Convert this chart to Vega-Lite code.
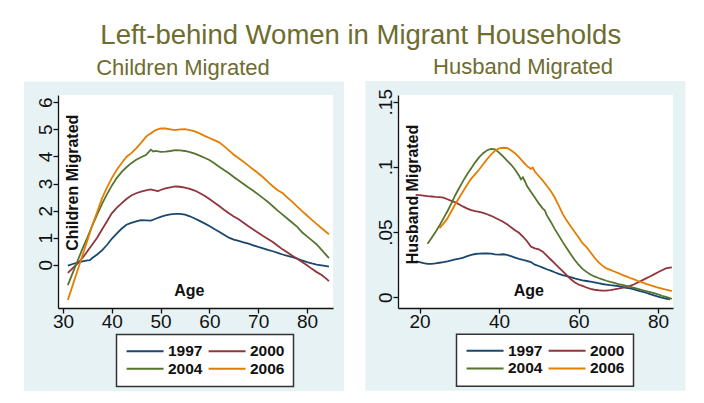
{
  "$schema": "https://vega.github.io/schema/vega-lite/v6.json",
  "background": "white",
  "autosize": {"type": "pad"},
  "padding": {"left": 23, "top": 22, "right": 0, "bottom": 0},
  "title": {"text": "Left-behind Women in Migrant Households", "font": "Liberation Sans", "fontSize": 27.5, "fontWeight": "normal", "color": "#6e6c2f", "anchor": "middle", "dx": 6, "offset": 6},
  "datasets": {
    "children": [
      {"age":31,"year":"1997","value":-0.03},{"age":32,"year":"1997","value":0.03},{"age":33,"year":"1997","value":0.08},{"age":34,"year":"1997","value":0.13},{"age":35,"year":"1997","value":0.16},{"age":35.5,"year":"1997","value":0.17},{"age":36,"year":"1997","value":0.25},{"age":37,"year":"1997","value":0.38},{"age":38,"year":"1997","value":0.53},{"age":39,"year":"1997","value":0.73},{"age":40,"year":"1997","value":0.96},{"age":41,"year":"1997","value":1.15},{"age":42,"year":"1997","value":1.33},{"age":43,"year":"1997","value":1.48},{"age":44,"year":"1997","value":1.55},{"age":45,"year":"1997","value":1.6},{"age":46,"year":"1997","value":1.65},{"age":47,"year":"1997","value":1.64},{"age":48,"year":"1997","value":1.63},{"age":49,"year":"1997","value":1.7},{"age":50,"year":"1997","value":1.77},{"age":51,"year":"1997","value":1.82},{"age":52,"year":"1997","value":1.86},{"age":53,"year":"1997","value":1.88},{"age":54,"year":"1997","value":1.88},{"age":55,"year":"1997","value":1.85},{"age":56,"year":"1997","value":1.79},{"age":57,"year":"1997","value":1.71},{"age":58,"year":"1997","value":1.62},{"age":59,"year":"1997","value":1.53},{"age":60,"year":"1997","value":1.43},{"age":61,"year":"1997","value":1.32},{"age":62,"year":"1997","value":1.22},{"age":63,"year":"1997","value":1.11},{"age":64,"year":"1997","value":1.0},{"age":65,"year":"1997","value":0.93},{"age":66,"year":"1997","value":0.88},{"age":67,"year":"1997","value":0.83},{"age":68,"year":"1997","value":0.78},{"age":69,"year":"1997","value":0.72},{"age":70,"year":"1997","value":0.66},{"age":71,"year":"1997","value":0.61},{"age":72,"year":"1997","value":0.55},{"age":73,"year":"1997","value":0.5},{"age":74,"year":"1997","value":0.44},{"age":75,"year":"1997","value":0.38},{"age":76,"year":"1997","value":0.33},{"age":77,"year":"1997","value":0.28},{"age":78,"year":"1997","value":0.23},{"age":79,"year":"1997","value":0.16},{"age":80,"year":"1997","value":0.1},{"age":81,"year":"1997","value":0.05},{"age":82,"year":"1997","value":0.01},{"age":83,"year":"1997","value":-0.02},{"age":84,"year":"1997","value":-0.05},{"age":84.5,"year":"1997","value":-0.07},
      {"age":31,"year":"2000","value":-0.3},{"age":32,"year":"2000","value":-0.12},{"age":33,"year":"2000","value":0.05},{"age":34,"year":"2000","value":0.25},{"age":35,"year":"2000","value":0.5},{"age":36,"year":"2000","value":0.75},{"age":37,"year":"2000","value":1.0},{"age":38,"year":"2000","value":1.3},{"age":39,"year":"2000","value":1.6},{"age":40,"year":"2000","value":1.9},{"age":41,"year":"2000","value":2.1},{"age":42,"year":"2000","value":2.27},{"age":43,"year":"2000","value":2.43},{"age":44,"year":"2000","value":2.56},{"age":45,"year":"2000","value":2.64},{"age":46,"year":"2000","value":2.7},{"age":47,"year":"2000","value":2.75},{"age":48,"year":"2000","value":2.78},{"age":49,"year":"2000","value":2.74},{"age":49.5,"year":"2000","value":2.72},{"age":50,"year":"2000","value":2.76},{"age":51,"year":"2000","value":2.82},{"age":52,"year":"2000","value":2.86},{"age":53,"year":"2000","value":2.89},{"age":54,"year":"2000","value":2.88},{"age":55,"year":"2000","value":2.85},{"age":56,"year":"2000","value":2.8},{"age":57,"year":"2000","value":2.74},{"age":58,"year":"2000","value":2.65},{"age":59,"year":"2000","value":2.55},{"age":60,"year":"2000","value":2.43},{"age":61,"year":"2000","value":2.3},{"age":62,"year":"2000","value":2.17},{"age":63,"year":"2000","value":2.03},{"age":64,"year":"2000","value":1.9},{"age":65,"year":"2000","value":1.78},{"age":66,"year":"2000","value":1.68},{"age":67,"year":"2000","value":1.55},{"age":68,"year":"2000","value":1.42},{"age":69,"year":"2000","value":1.3},{"age":70,"year":"2000","value":1.18},{"age":71,"year":"2000","value":1.06},{"age":72,"year":"2000","value":0.95},{"age":73,"year":"2000","value":0.84},{"age":74,"year":"2000","value":0.7},{"age":75,"year":"2000","value":0.57},{"age":76,"year":"2000","value":0.45},{"age":77,"year":"2000","value":0.33},{"age":78,"year":"2000","value":0.22},{"age":79,"year":"2000","value":0.1},{"age":80,"year":"2000","value":-0.02},{"age":81,"year":"2000","value":-0.15},{"age":82,"year":"2000","value":-0.27},{"age":83,"year":"2000","value":-0.38},{"age":84,"year":"2000","value":-0.52},{"age":84.5,"year":"2000","value":-0.6},
      {"age":31,"year":"2004","value":-0.75},{"age":32,"year":"2004","value":-0.3},{"age":33,"year":"2004","value":0.15},{"age":34,"year":"2004","value":0.6},{"age":35,"year":"2004","value":1.0},{"age":36,"year":"2004","value":1.45},{"age":37,"year":"2004","value":1.85},{"age":38,"year":"2004","value":2.25},{"age":39,"year":"2004","value":2.6},{"age":40,"year":"2004","value":2.92},{"age":41,"year":"2004","value":3.2},{"age":42,"year":"2004","value":3.42},{"age":43,"year":"2004","value":3.6},{"age":44,"year":"2004","value":3.75},{"age":45,"year":"2004","value":3.88},{"age":46,"year":"2004","value":3.97},{"age":47,"year":"2004","value":4.05},{"age":47.5,"year":"2004","value":4.15},{"age":48,"year":"2004","value":4.25},{"age":48.5,"year":"2004","value":4.18},{"age":49,"year":"2004","value":4.2},{"age":50,"year":"2004","value":4.17},{"age":51,"year":"2004","value":4.18},{"age":52,"year":"2004","value":4.2},{"age":53,"year":"2004","value":4.23},{"age":54,"year":"2004","value":4.22},{"age":55,"year":"2004","value":4.2},{"age":56,"year":"2004","value":4.16},{"age":57,"year":"2004","value":4.1},{"age":58,"year":"2004","value":4.03},{"age":59,"year":"2004","value":3.95},{"age":60,"year":"2004","value":3.87},{"age":61,"year":"2004","value":3.75},{"age":62,"year":"2004","value":3.62},{"age":63,"year":"2004","value":3.5},{"age":64,"year":"2004","value":3.38},{"age":65,"year":"2004","value":3.24},{"age":66,"year":"2004","value":3.11},{"age":67,"year":"2004","value":2.98},{"age":68,"year":"2004","value":2.85},{"age":69,"year":"2004","value":2.73},{"age":70,"year":"2004","value":2.6},{"age":71,"year":"2004","value":2.46},{"age":72,"year":"2004","value":2.32},{"age":73,"year":"2004","value":2.16},{"age":74,"year":"2004","value":2.0},{"age":75,"year":"2004","value":1.85},{"age":76,"year":"2004","value":1.7},{"age":77,"year":"2004","value":1.55},{"age":78,"year":"2004","value":1.4},{"age":79,"year":"2004","value":1.2},{"age":80,"year":"2004","value":1.05},{"age":81,"year":"2004","value":0.9},{"age":82,"year":"2004","value":0.75},{"age":83,"year":"2004","value":0.55},{"age":84,"year":"2004","value":0.35},{"age":84.5,"year":"2004","value":0.25},
      {"age":31,"year":"2006","value":-1.3},{"age":32,"year":"2006","value":-0.75},{"age":33,"year":"2006","value":-0.2},{"age":34,"year":"2006","value":0.35},{"age":35,"year":"2006","value":0.9},{"age":36,"year":"2006","value":1.45},{"age":37,"year":"2006","value":1.95},{"age":38,"year":"2006","value":2.45},{"age":39,"year":"2006","value":2.85},{"age":40,"year":"2006","value":3.2},{"age":41,"year":"2006","value":3.5},{"age":42,"year":"2006","value":3.75},{"age":43,"year":"2006","value":3.98},{"age":44,"year":"2006","value":4.12},{"age":45,"year":"2006","value":4.3},{"age":46,"year":"2006","value":4.5},{"age":47,"year":"2006","value":4.72},{"age":47.5,"year":"2006","value":4.8},{"age":48,"year":"2006","value":4.85},{"age":49,"year":"2006","value":4.97},{"age":50,"year":"2006","value":5.03},{"age":51,"year":"2006","value":5.03},{"age":52,"year":"2006","value":5.0},{"age":53,"year":"2006","value":4.97},{"age":54,"year":"2006","value":5.0},{"age":55,"year":"2006","value":5.01},{"age":56,"year":"2006","value":4.97},{"age":57,"year":"2006","value":4.92},{"age":58,"year":"2006","value":4.85},{"age":59,"year":"2006","value":4.76},{"age":60,"year":"2006","value":4.68},{"age":61,"year":"2006","value":4.6},{"age":62,"year":"2006","value":4.52},{"age":63,"year":"2006","value":4.38},{"age":64,"year":"2006","value":4.22},{"age":65,"year":"2006","value":4.06},{"age":66,"year":"2006","value":3.93},{"age":67,"year":"2006","value":3.8},{"age":68,"year":"2006","value":3.66},{"age":69,"year":"2006","value":3.52},{"age":70,"year":"2006","value":3.38},{"age":71,"year":"2006","value":3.23},{"age":72,"year":"2006","value":3.06},{"age":73,"year":"2006","value":2.9},{"age":74,"year":"2006","value":2.75},{"age":75,"year":"2006","value":2.65},{"age":76,"year":"2006","value":2.48},{"age":77,"year":"2006","value":2.32},{"age":78,"year":"2006","value":2.15},{"age":79,"year":"2006","value":1.98},{"age":80,"year":"2006","value":1.82},{"age":81,"year":"2006","value":1.66},{"age":82,"year":"2006","value":1.5},{"age":83,"year":"2006","value":1.35},{"age":84,"year":"2006","value":1.2},{"age":84.5,"year":"2006","value":1.13}
    ],
    "husband": [
      {"age":19,"year":"1997","value":0.0275},{"age":20,"year":"1997","value":0.027},{"age":21,"year":"1997","value":0.0262},{"age":22,"year":"1997","value":0.0257},{"age":23,"year":"1997","value":0.0256},{"age":24,"year":"1997","value":0.026},{"age":25,"year":"1997","value":0.0265},{"age":26,"year":"1997","value":0.027},{"age":27,"year":"1997","value":0.0276},{"age":28,"year":"1997","value":0.0283},{"age":29,"year":"1997","value":0.029},{"age":30,"year":"1997","value":0.0297},{"age":31,"year":"1997","value":0.0305},{"age":32,"year":"1997","value":0.0315},{"age":33,"year":"1997","value":0.0325},{"age":34,"year":"1997","value":0.0332},{"age":35,"year":"1997","value":0.0335},{"age":36,"year":"1997","value":0.0336},{"age":37,"year":"1997","value":0.0337},{"age":38,"year":"1997","value":0.0335},{"age":39,"year":"1997","value":0.033},{"age":40,"year":"1997","value":0.0328},{"age":41,"year":"1997","value":0.033},{"age":42,"year":"1997","value":0.0325},{"age":43,"year":"1997","value":0.0315},{"age":44,"year":"1997","value":0.0305},{"age":45,"year":"1997","value":0.0295},{"age":46,"year":"1997","value":0.0287},{"age":47,"year":"1997","value":0.028},{"age":48,"year":"1997","value":0.027},{"age":49,"year":"1997","value":0.025},{"age":50,"year":"1997","value":0.024},{"age":51,"year":"1997","value":0.0228},{"age":52,"year":"1997","value":0.0215},{"age":53,"year":"1997","value":0.0205},{"age":54,"year":"1997","value":0.0192},{"age":55,"year":"1997","value":0.018},{"age":56,"year":"1997","value":0.0171},{"age":57,"year":"1997","value":0.0163},{"age":58,"year":"1997","value":0.0155},{"age":59,"year":"1997","value":0.0145},{"age":60,"year":"1997","value":0.0137},{"age":61,"year":"1997","value":0.013},{"age":62,"year":"1997","value":0.0125},{"age":63,"year":"1997","value":0.012},{"age":64,"year":"1997","value":0.0115},{"age":65,"year":"1997","value":0.0108},{"age":66,"year":"1997","value":0.0102},{"age":67,"year":"1997","value":0.0098},{"age":68,"year":"1997","value":0.0093},{"age":69,"year":"1997","value":0.0089},{"age":70,"year":"1997","value":0.0085},{"age":71,"year":"1997","value":0.008},{"age":72,"year":"1997","value":0.0073},{"age":73,"year":"1997","value":0.0068},{"age":74,"year":"1997","value":0.006},{"age":75,"year":"1997","value":0.0052},{"age":76,"year":"1997","value":0.0044},{"age":77,"year":"1997","value":0.0035},{"age":78,"year":"1997","value":0.0025},{"age":79,"year":"1997","value":0.0015},{"age":80,"year":"1997","value":0.0005},{"age":81,"year":"1997","value":-0.0002},{"age":82,"year":"1997","value":-0.001},{"age":83,"year":"1997","value":-0.0016},
      {"age":19,"year":"2000","value":0.0785},{"age":20,"year":"2000","value":0.0783},{"age":21,"year":"2000","value":0.078},{"age":22,"year":"2000","value":0.0776},{"age":23,"year":"2000","value":0.0773},{"age":24,"year":"2000","value":0.077},{"age":25,"year":"2000","value":0.0768},{"age":26,"year":"2000","value":0.0765},{"age":27,"year":"2000","value":0.0752},{"age":28,"year":"2000","value":0.074},{"age":29,"year":"2000","value":0.0728},{"age":30,"year":"2000","value":0.0712},{"age":31,"year":"2000","value":0.0695},{"age":32,"year":"2000","value":0.068},{"age":33,"year":"2000","value":0.0668},{"age":34,"year":"2000","value":0.066},{"age":35,"year":"2000","value":0.0655},{"age":36,"year":"2000","value":0.0648},{"age":37,"year":"2000","value":0.0637},{"age":38,"year":"2000","value":0.0625},{"age":39,"year":"2000","value":0.061},{"age":40,"year":"2000","value":0.0595},{"age":41,"year":"2000","value":0.058},{"age":42,"year":"2000","value":0.056},{"age":43,"year":"2000","value":0.0538},{"age":44,"year":"2000","value":0.0515},{"age":45,"year":"2000","value":0.0495},{"age":46,"year":"2000","value":0.0465},{"age":47,"year":"2000","value":0.0432},{"age":48,"year":"2000","value":0.039},{"age":49,"year":"2000","value":0.0375},{"age":50,"year":"2000","value":0.0368},{"age":51,"year":"2000","value":0.035},{"age":52,"year":"2000","value":0.032},{"age":53,"year":"2000","value":0.029},{"age":54,"year":"2000","value":0.026},{"age":55,"year":"2000","value":0.023},{"age":56,"year":"2000","value":0.02},{"age":57,"year":"2000","value":0.017},{"age":58,"year":"2000","value":0.014},{"age":59,"year":"2000","value":0.0115},{"age":60,"year":"2000","value":0.0098},{"age":61,"year":"2000","value":0.0087},{"age":62,"year":"2000","value":0.0075},{"age":63,"year":"2000","value":0.0064},{"age":64,"year":"2000","value":0.0058},{"age":65,"year":"2000","value":0.0054},{"age":66,"year":"2000","value":0.0052},{"age":67,"year":"2000","value":0.0052},{"age":68,"year":"2000","value":0.0055},{"age":69,"year":"2000","value":0.006},{"age":70,"year":"2000","value":0.0066},{"age":71,"year":"2000","value":0.0073},{"age":72,"year":"2000","value":0.008},{"age":73,"year":"2000","value":0.0088},{"age":74,"year":"2000","value":0.01},{"age":75,"year":"2000","value":0.0115},{"age":76,"year":"2000","value":0.013},{"age":77,"year":"2000","value":0.0145},{"age":78,"year":"2000","value":0.016},{"age":79,"year":"2000","value":0.0176},{"age":80,"year":"2000","value":0.0192},{"age":81,"year":"2000","value":0.0207},{"age":82,"year":"2000","value":0.0222},{"age":83,"year":"2000","value":0.0228},{"age":83.5,"year":"2000","value":0.023},
      {"age":22,"year":"2004","value":0.041},{"age":23,"year":"2004","value":0.0455},{"age":24,"year":"2004","value":0.05},{"age":25,"year":"2004","value":0.055},{"age":26,"year":"2004","value":0.0605},{"age":27,"year":"2004","value":0.066},{"age":28,"year":"2004","value":0.072},{"age":29,"year":"2004","value":0.0785},{"age":30,"year":"2004","value":0.084},{"age":31,"year":"2004","value":0.0895},{"age":32,"year":"2004","value":0.0945},{"age":33,"year":"2004","value":0.099},{"age":34,"year":"2004","value":0.1035},{"age":35,"year":"2004","value":0.1075},{"age":36,"year":"2004","value":0.1105},{"age":37,"year":"2004","value":0.1128},{"age":38,"year":"2004","value":0.1138},{"age":39,"year":"2004","value":0.1135},{"age":40,"year":"2004","value":0.111},{"age":41,"year":"2004","value":0.108},{"age":42,"year":"2004","value":0.1048},{"age":43,"year":"2004","value":0.1018},{"age":44,"year":"2004","value":0.098},{"age":45,"year":"2004","value":0.0935},{"age":45.5,"year":"2004","value":0.0905},{"age":46,"year":"2004","value":0.092},{"age":46.5,"year":"2004","value":0.089},{"age":47,"year":"2004","value":0.0855},{"age":48,"year":"2004","value":0.081},{"age":49,"year":"2004","value":0.0765},{"age":50,"year":"2004","value":0.072},{"age":51,"year":"2004","value":0.068},{"age":51.5,"year":"2004","value":0.0668},{"age":52,"year":"2004","value":0.063},{"age":53,"year":"2004","value":0.058},{"age":54,"year":"2004","value":0.0525},{"age":55,"year":"2004","value":0.0475},{"age":56,"year":"2004","value":0.0425},{"age":57,"year":"2004","value":0.0378},{"age":58,"year":"2004","value":0.0332},{"age":59,"year":"2004","value":0.0288},{"age":60,"year":"2004","value":0.025},{"age":61,"year":"2004","value":0.0218},{"age":62,"year":"2004","value":0.0195},{"age":63,"year":"2004","value":0.0175},{"age":64,"year":"2004","value":0.016},{"age":65,"year":"2004","value":0.0148},{"age":66,"year":"2004","value":0.0137},{"age":67,"year":"2004","value":0.0127},{"age":68,"year":"2004","value":0.0118},{"age":69,"year":"2004","value":0.011},{"age":70,"year":"2004","value":0.0102},{"age":71,"year":"2004","value":0.0095},{"age":72,"year":"2004","value":0.0087},{"age":73,"year":"2004","value":0.008},{"age":74,"year":"2004","value":0.0072},{"age":75,"year":"2004","value":0.0064},{"age":76,"year":"2004","value":0.0056},{"age":77,"year":"2004","value":0.0048},{"age":78,"year":"2004","value":0.004},{"age":79,"year":"2004","value":0.0032},{"age":80,"year":"2004","value":0.0022},{"age":81,"year":"2004","value":0.0012},{"age":82,"year":"2004","value":0.0003},{"age":83,"year":"2004","value":-0.0007},{"age":83.5,"year":"2004","value":-0.0013},
      {"age":25,"year":"2006","value":0.053},{"age":26,"year":"2006","value":0.0565},{"age":27,"year":"2006","value":0.0605},{"age":28,"year":"2006","value":0.066},{"age":29,"year":"2006","value":0.0715},{"age":30,"year":"2006","value":0.0765},{"age":31,"year":"2006","value":0.0815},{"age":32,"year":"2006","value":0.0865},{"age":33,"year":"2006","value":0.091},{"age":34,"year":"2006","value":0.0945},{"age":35,"year":"2006","value":0.098},{"age":36,"year":"2006","value":0.102},{"age":37,"year":"2006","value":0.106},{"age":38,"year":"2006","value":0.1095},{"age":39,"year":"2006","value":0.1125},{"age":40,"year":"2006","value":0.1143},{"age":41,"year":"2006","value":0.1147},{"age":42,"year":"2006","value":0.1145},{"age":43,"year":"2006","value":0.1128},{"age":44,"year":"2006","value":0.1105},{"age":45,"year":"2006","value":0.1075},{"age":46,"year":"2006","value":0.104},{"age":47,"year":"2006","value":0.1008},{"age":48,"year":"2006","value":0.0985},{"age":48.5,"year":"2006","value":0.0995},{"age":49,"year":"2006","value":0.0965},{"age":50,"year":"2006","value":0.093},{"age":51,"year":"2006","value":0.0895},{"age":52,"year":"2006","value":0.0855},{"age":53,"year":"2006","value":0.0815},{"age":54,"year":"2006","value":0.0765},{"age":55,"year":"2006","value":0.0705},{"age":56,"year":"2006","value":0.064},{"age":57,"year":"2006","value":0.059},{"age":58,"year":"2006","value":0.0545},{"age":59,"year":"2006","value":0.0503},{"age":60,"year":"2006","value":0.046},{"age":61,"year":"2006","value":0.0415},{"age":62,"year":"2006","value":0.0385},{"age":63,"year":"2006","value":0.0345},{"age":64,"year":"2006","value":0.0305},{"age":65,"year":"2006","value":0.027},{"age":66,"year":"2006","value":0.0243},{"age":67,"year":"2006","value":0.0222},{"age":68,"year":"2006","value":0.021},{"age":69,"year":"2006","value":0.0198},{"age":70,"year":"2006","value":0.0186},{"age":71,"year":"2006","value":0.0172},{"age":72,"year":"2006","value":0.016},{"age":73,"year":"2006","value":0.0148},{"age":74,"year":"2006","value":0.0137},{"age":75,"year":"2006","value":0.0125},{"age":76,"year":"2006","value":0.0114},{"age":77,"year":"2006","value":0.0103},{"age":78,"year":"2006","value":0.0093},{"age":79,"year":"2006","value":0.0084},{"age":80,"year":"2006","value":0.0074},{"age":81,"year":"2006","value":0.0066},{"age":82,"year":"2006","value":0.0058},{"age":83,"year":"2006","value":0.0052},{"age":83.5,"year":"2006","value":0.0049}
    ]
  },
  "spacing": 21,
  "resolve": {"scale": {"color": "independent"}, "legend": {"color": "independent"}},
  "hconcat": [
    {
      "width": 275,
      "height": 213,
      "title": {"text": "Children Migrated", "dx": -12.5},
      "layer": [
        {
          "data": {"values": [{}]},
          "mark": {"type": "rect", "color": "#e7f2f5", "clip": false},
          "encoding": {
            "x": {"datum": 22.01, "type": "quantitative", "scale": {"domain": [28.98, 85.33], "nice": false, "zero": false}, "axis": {"values": [30, 40, 50, 60, 70, 80]}},
            "x2": {"datum": 87.58},
            "y": {"datum": 6.764, "type": "quantitative", "scale": {"domain": [-1.594, 6.266], "nice": false, "zero": false}, "axis": {"values": [0, 1, 2, 3, 4, 5, 6]}},
            "y2": {"datum": -4.664}
          }
        },
        {
          "data": {"values": [{}]},
          "mark": {"type": "rect", "color": "white", "clip": false},
          "encoding": {
            "x": {"datum": 28.98, "type": "quantitative", "scale": {"domain": [28.98, 85.33], "nice": false, "zero": false}, "axis": {"values": [30, 40, 50, 60, 70, 80]}},
            "x2": {"datum": 85.33},
            "y": {"datum": 6.266, "type": "quantitative", "scale": {"domain": [-1.594, 6.266], "nice": false, "zero": false}, "axis": {"values": [0, 1, 2, 3, 4, 5, 6]}},
            "y2": {"datum": -1.594}
          }
        },
        {
          "data": {"name": "children"},
          "mark": {"type": "line", "strokeWidth": 1.8, "clip": false},
          "encoding": {
            "x": {"field": "age", "type": "quantitative", "scale": {"domain": [28.98, 85.33], "nice": false, "zero": false},
              "axis": {"zindex": 1, "labelOverlap": false, "values": [30, 40, 50, 60, 70, 80], "title": "Age", "titleX": 130.8, "titleY": -17.5, "titleAlign": "center", "titleBaseline": "middle", "titleAngle": 0, "labelBaseline": "top", "labelPadding": -0.5}},
            "y": {"field": "value", "type": "quantitative", "scale": {"domain": [-1.594, 6.266], "nice": false, "zero": false},
              "axis": {"zindex": 1, "labelOverlap": false, "values": [0, 1, 2, 3, 4, 5, 6], "title": "Children Migrated", "titleX": 14.6, "titleY": 87.2, "titleAngle": -90, "titleAlign": "center", "titleBaseline": "middle", "labelAngle": -90, "labelAlign": "center", "labelBaseline": "alphabetic", "labelPadding": 2}},
            "color": {"field": "year", "type": "nominal", "scale": {"domain": ["1997", "2000", "2004", "2006"], "range": ["#1a476f", "#90353b", "#55752f", "#e37e00"]},
              "legend": {"orient": "none", "legendX": 58.5, "legendY": 239.5}}
          }
        }
      ]
    },
    {
      "width": 275,
      "height": 213,
      "title": {"text": "Husband Migrated", "dx": -12.5},
      "layer": [
        {
          "data": {"values": [{}]},
          "mark": {"type": "rect", "color": "#e7f2f5", "clip": false},
          "encoding": {
            "x": {"datum": 6.33, "type": "quantitative", "scale": {"domain": [14.56, 83.78], "nice": false, "zero": false}, "axis": {"values": [20, 40, 60, 80]}},
            "x2": {"datum": 86.93},
            "y": {"datum": 0.1659, "type": "quantitative", "scale": {"domain": [-0.0082, 0.15514], "nice": false, "zero": false}, "axis": {"values": [0, 0.05, 0.1, 0.15]}},
            "y2": {"datum": -0.0716}
          }
        },
        {
          "data": {"values": [{}]},
          "mark": {"type": "rect", "color": "white", "clip": false},
          "encoding": {
            "x": {"datum": 14.56, "type": "quantitative", "scale": {"domain": [14.56, 83.78], "nice": false, "zero": false}, "axis": {"values": [20, 40, 60, 80]}},
            "x2": {"datum": 83.78},
            "y": {"datum": 0.15514, "type": "quantitative", "scale": {"domain": [-0.0082, 0.15514], "nice": false, "zero": false}, "axis": {"values": [0, 0.05, 0.1, 0.15]}},
            "y2": {"datum": -0.0082}
          }
        },
        {
          "data": {"name": "husband"},
          "mark": {"type": "line", "strokeWidth": 1.8, "clip": false},
          "encoding": {
            "x": {"field": "age", "type": "quantitative", "scale": {"domain": [14.56, 83.78], "nice": false, "zero": false},
              "axis": {"zindex": 1, "labelOverlap": false, "values": [20, 40, 60, 80], "title": "Age", "titleX": 130.3, "titleY": -17.5, "titleAlign": "center", "titleBaseline": "middle", "titleAngle": 0, "labelBaseline": "top", "labelPadding": -0.5}},
            "y": {"field": "value", "type": "quantitative", "scale": {"domain": [-0.0082, 0.15514], "nice": false, "zero": false},
              "axis": {"zindex": 1, "labelOverlap": false, "values": [0, 0.05, 0.1, 0.15], "labelExpr": "datum.value == 0 ? '0' : replace(format(datum.value, '.2~f'), '0.', '.')", "title": "Husband Migrated", "titleX": 14.3, "titleY": 99, "titleAngle": -90, "titleAlign": "center", "titleBaseline": "middle", "labelAngle": -90, "labelAlign": "center", "labelBaseline": "alphabetic", "labelPadding": 2}},
            "color": {"field": "year", "type": "nominal", "scale": {"domain": ["1997", "2000", "2004", "2006"], "range": ["#1a476f", "#90353b", "#55752f", "#e37e00"]},
              "legend": {"orient": "none", "legendX": 58.5, "legendY": 239.2}}
          }
        }
      ]
    }
  ],
  "config": {
    "view": {"stroke": null, "fill": null},
    "title": {"font": "Liberation Sans", "fontSize": 22, "fontWeight": "normal", "color": "#6e6c2f", "anchor": "middle", "offset": 2},
    "axis": {"grid": false, "domainColor": "#111111", "domainWidth": 1.3, "tickColor": "#111111", "tickWidth": 1.3, "tickSize": 5, "labelFont": "Liberation Sans", "labelFontSize": 19, "labelColor": "#111111", "labelFlush": false, "labelOverlap": false, "titleFont": "Liberation Sans", "titleFontSize": 16, "titleFontWeight": "bold", "titleColor": "#111111"},
    "legend": {"title": null, "zindex": 1, "direction": "horizontal", "columns": 2, "symbolType": "M-1,0H5", "symbolSize": 152, "symbolStrokeWidth": 2, "labelFont": "Liberation Sans", "labelFontSize": 15.5, "labelFontWeight": "bold", "labelColor": "#111111", "labelOffset": 27.5, "columnPadding": 1, "rowPadding": 1, "padding": 8.5, "strokeColor": "#333333", "fillColor": "white", "strokeWidth": 1.5}
  }
}
